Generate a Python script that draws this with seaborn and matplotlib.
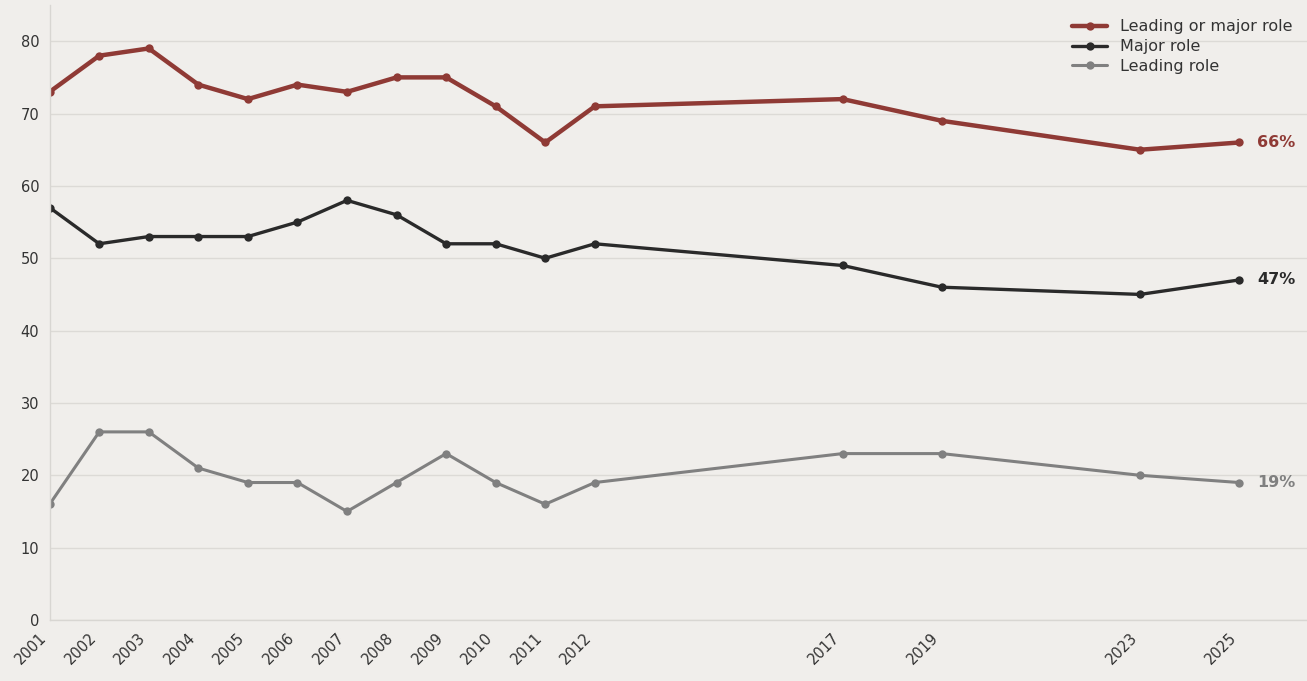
import matplotlib
matplotlib.use("Agg")
import matplotlib.pyplot as plt
import seaborn as sns
import pandas as pd

years = [2001, 2002, 2003, 2004, 2005, 2006, 2007, 2008, 2009, 2010, 2011, 2012, 2017, 2019, 2023, 2025]
lead_or_major = [73, 78, 79, 74, 72, 74, 73, 75, 75, 71, 66, 71, 72, 69, 65, 66]
major = [57, 52, 53, 53, 53, 55, 58, 56, 52, 52, 50, 52, 49, 46, 45, 47]
leading = [16, 26, 26, 21, 19, 19, 15, 19, 23, 19, 16, 19, 23, 23, 20, 19]

series_names = ["Leading or major role", "Major role", "Leading role"]
colors = ["#8f3a35", "#2a2a2a", "#808080"]
widths = [3.2, 2.4, 2.2]

bg = "#f0eeeb"
sns.set_theme(style="white")
plt.rcParams['font.family'] = ['DejaVu Sans']

df = pd.DataFrame({"year": years * 3,
                   "value": lead_or_major + major + leading,
                   "series": sum([[n] * len(years) for n in series_names], [])})

fig = plt.figure(figsize=(13.07, 6.81), dpi=100, facecolor=bg)
ax = fig.add_axes([0.038, 0.0896, 0.962, 0.903])
ax.set_facecolor(bg)

for name, col, lw in zip(series_names, colors, widths):
    sub = df[df.series == name]
    sns.lineplot(data=sub, x="year", y="value", ax=ax, color=col, linewidth=lw,
                 marker="o", markersize=6, markeredgewidth=0, label=name)
    last = sub.iloc[-1]
    ax.text(last.year + 0.37, last.value, f"{int(last.value)}%", color=col,
            fontsize=11.5, fontweight="bold", va="center", ha="left")

ax.set_xlim(2001, 2026.37)
ax.set_ylim(0, 85)
ax.set_xticks(years)
ax.set_xticklabels([str(y) for y in years], rotation=45, ha="right", fontsize=10.5, color="#333333")
ax.set_yticks(range(0, 81, 10))
ax.tick_params(axis="y", labelsize=10.5, colors="#333333", length=4, width=0.8)
ax.tick_params(axis="x", length=4, width=0.8, colors="#333333", pad=3)
ax.set_xlabel("")
ax.set_ylabel("")
ax.grid(axis="y", color="#dcdad6", linewidth=1)
ax.set_axisbelow(True)
for s in ["top", "right"]:
    ax.spines[s].set_visible(False)
for s in ["left", "bottom"]:
    ax.spines[s].set_color("#d8d6d2")
    ax.spines[s].set_linewidth(1)

leg = ax.legend(loc="upper right", frameon=False, fontsize=11.5, handlelength=2.2,
                bbox_to_anchor=(1.0, 1.0), labelspacing=0.3)
for t in leg.get_texts():
    t.set_color("#333333")

fig.savefig("out.png", dpi=100, facecolor=bg)
